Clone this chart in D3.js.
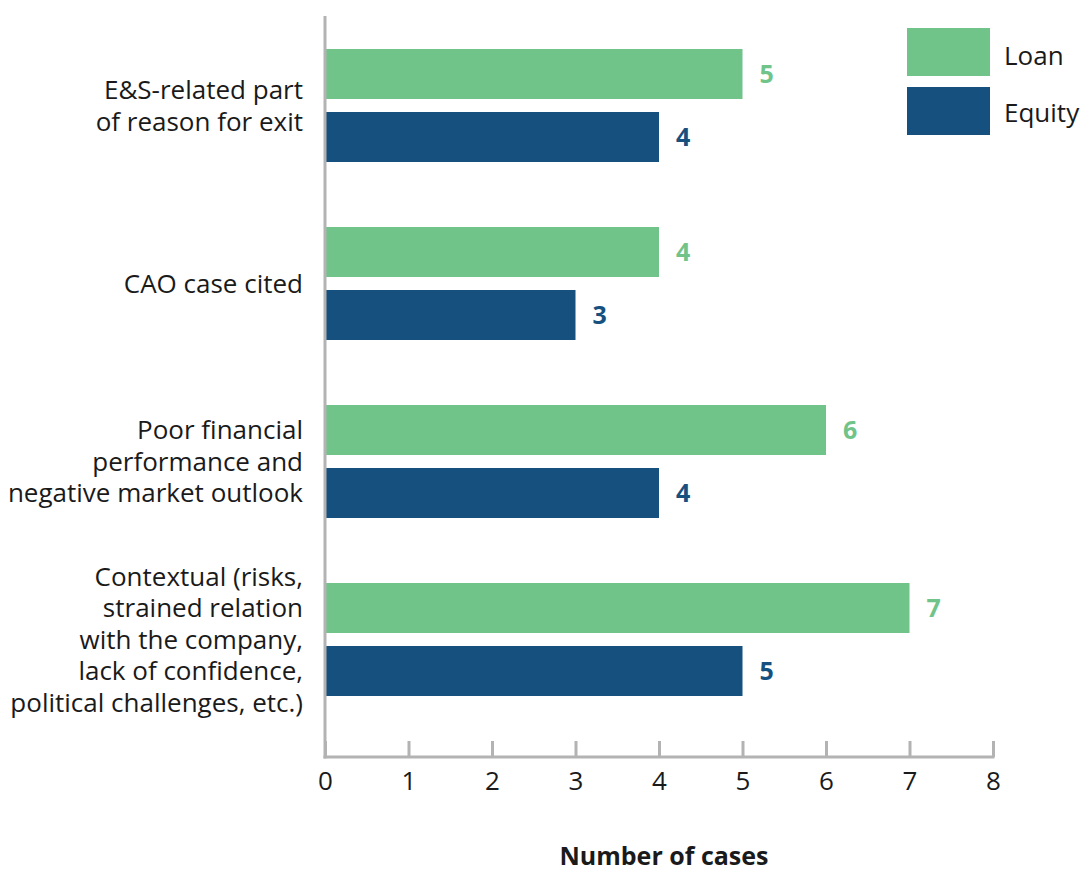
<!DOCTYPE html>
<html>
<head>
<meta charset="utf-8">
<script src="https://cdn.jsdelivr.net/npm/d3@7"></script>
<style>
  body { margin: 0; background: #fff; overflow: hidden; }
  text { font-family: "Open Sans", "Lato", sans-serif; fill: #1a1a1a; }
</style>
</head>
<body>
<div id="chart"></div>
<script>
// chart data
var categories = [
  ["E&S-related part", "of reason for exit"],
  ["CAO case cited"],
  ["Poor financial", "performance and", "negative market outlook"],
  ["Contextual (risks,", "strained relation", "with the company,", "lack of confidence,", "political challenges, etc.)"]
];
var series = ["Loan", "Equity"];
var loanValues = [5, 4, 6, 7];
var equityValues = [4, 3, 4, 5];
var xTicks = [0, 1, 2, 3, 4, 5, 6, 7, 8];

var colors = { Loan: "#70c489", Equity: "#16507f" };

var svgWidth = 1081;
var svgHeight = 872;

var svg = d3.select("#chart")
  .append("svg")
  .attr("width", svgWidth)
  .attr("height", svgHeight)
  .style("display", "block");

var keys = categories.map((c, i) => "c" + i);

var xScale = d3.scaleLinear()
  .domain([0, 8])
  .range([325, 993]);

var yScale = d3.scaleBand()
  .domain(keys)
  .range([49, 696])
  .paddingInner(65 / 178)
  .paddingOuter(0);

var ySub = d3.scaleBand()
  .domain(series)
  .range([0, yScale.bandwidth()])
  .paddingInner(13 / 63);

var rows = [];
keys.forEach((k, i) => {
  rows.push({ key: k, series: "Loan", value: loanValues[i] });
  rows.push({ key: k, series: "Equity", value: equityValues[i] });
});

// bars
svg.append("g").selectAll("rect")
  .data(rows)
  .enter()
  .append("rect")
  .attr("x", xScale(0))
  .attr("y", d => yScale(d.key) + ySub(d.series))
  .attr("width", d => xScale(d.value) - xScale(0))
  .attr("height", ySub.bandwidth())
  .attr("fill", d => colors[d.series]);

// value labels
svg.append("g").selectAll("text")
  .data(rows)
  .enter()
  .append("text")
  .attr("x", d => xScale(d.value) + 17)
  .attr("y", d => yScale(d.key) + ySub(d.series) + ySub.bandwidth() / 2)
  .attr("dy", "0.36em")
  .style("font-size", "25px")
  .style("font-weight", "bold")
  .style("fill", d => colors[d.series])
  .text(d => d.value);

// x axis
var bottomAxis = d3.axisBottom(xScale)
  .tickValues(xTicks)
  .tickSize(-16)
  .tickPadding(15)
  .tickFormat(d3.format("d"));

var xAxis = svg.append("g")
  .attr("transform", "translate(0, 757)")
  .call(bottomAxis);

xAxis.select(".domain").remove();
xAxis.selectAll(".tick line")
  .attr("stroke", "#b3b3b3")
  .attr("stroke-width", 3);
xAxis.selectAll(".tick text")
  .style("font-size", "26px")
  .style("font-family", "'Open Sans', sans-serif")
  .attr("fill", "#1a1a1a");

// axis lines (gray)
svg.append("line")
  .attr("x1", xScale(0)).attr("x2", xScale(0))
  .attr("y1", 16).attr("y2", 758.5)
  .attr("stroke", "#b3b3b3")
  .attr("stroke-width", 3);
svg.append("line")
  .attr("x1", xScale(0) - 1.5).attr("x2", xScale(8) + 1.5)
  .attr("y1", 757).attr("y2", 757)
  .attr("stroke", "#b3b3b3")
  .attr("stroke-width", 3);

// category labels
var catGroup = svg.append("g");
categories.forEach((lines, i) => {
  var cy = yScale(keys[i]) + yScale.bandwidth() / 2;
  var lh = 31.5;
  var t = catGroup.append("text")
    .attr("text-anchor", "end")
    .style("font-size", "26px");
  lines.forEach((ln, j) => {
    t.append("tspan")
      .attr("x", 303)
      .attr("y", cy + (j - (lines.length - 1) / 2) * lh)
      .attr("dy", "0.36em")
      .text(ln);
  });
});

// x axis title
svg.append("text")
  .attr("x", 664)
  .attr("y", 856)
  .attr("dy", "0.35em")
  .attr("text-anchor", "middle")
  .style("font-size", "25px")
  .style("font-weight", "bold")
  .text("Number of cases");

// legend
var legend = svg.append("g");
series.forEach((s, i) => {
  legend.append("rect")
    .attr("x", 907)
    .attr("y", 28 + i * 59)
    .attr("width", 83)
    .attr("height", 48)
    .attr("fill", colors[s]);
  legend.append("text")
    .attr("x", 1004)
    .attr("y", 56 + i * 57)
    .attr("dy", "0.36em")
    .style("font-size", "26px")
    .text(s);
});
</script>
</body>
</html>
